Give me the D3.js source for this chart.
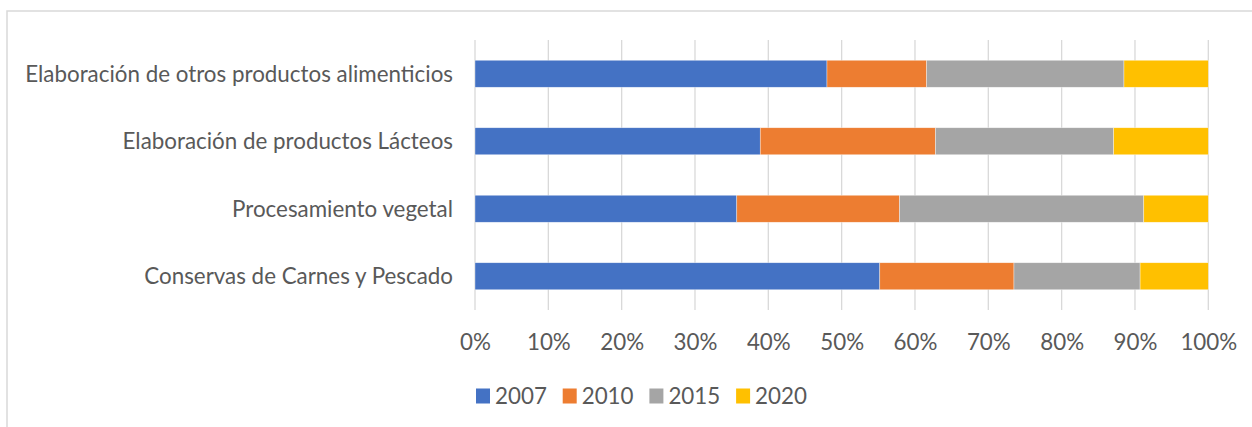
<!DOCTYPE html>
<html>
<head>
<meta charset="utf-8">
<script src="https://cdn.jsdelivr.net/npm/d3@7"></script>
<style>
  html, body { margin: 0; padding: 0; background: #fff; }
  svg { display: block; }
  text { font-family: Lato, "Open Sans", "Noto Sans", sans-serif; fill: #595959; }
</style>
</head>
<body>
<svg id="chart" width="1252" height="427"></svg>
<script>
// Data (shares in %)
const categories = [
  "Elaboración de otros productos alimenticios",
  "Elaboración de productos Lácteos",
  "Procesamiento vegetal",
  "Conservas de Carnes y Pescado"
];
const seriesNames = ["2007", "2010", "2015", "2020"];
const values2007 = [48.0, 38.9, 35.7, 55.2];
const values2010 = [13.6, 23.9, 22.2, 18.3];
const values2015 = [26.9, 24.3, 33.3, 17.2];
const values2020 = [11.5, 12.9,  8.8,  9.3];
const tickValues = [0, 0.1, 0.2, 0.3, 0.4, 0.5, 0.6, 0.7, 0.8, 0.9, 1.0];
const colors = ["#4472C4", "#ED7D31", "#A5A5A5", "#FFC000"];

const svg = d3.select("#chart");
const W = 1252, H = 427;

// chart frame
svg.append("path")
  .attr("d", `M7,${H + 5} V11 H${W + 5}`)
  .attr("fill", "none").attr("stroke", "#d9d9d9").attr("stroke-width", 1.5);

// fit font size so that the longest label matches the reference width
let fontSize = 21;
{
  const t = svg.append("text").attr("font-size", fontSize).text(categories[0]);
  const w = t.node().getComputedTextLength();
  t.remove();
  if (w > 0) fontSize = fontSize * 428 / w;
}

const plot = { left: 475, right: 1208.3, top: 40, bottom: 310 };

// build percentage table
const rows = categories.map((c, i) => {
  const vals = [values2007[i], values2010[i], values2015[i], values2020[i]];
  const tot = d3.sum(vals);
  const o = { category: c };
  seriesNames.forEach((s, j) => o[s] = vals[j] / tot);
  return o;
});
const stacked = d3.stack().keys(seriesNames)(rows);

const x = d3.scaleLinear().domain([0, 1]).range([plot.left, plot.right]);
const y = d3.scaleBand().domain(categories).range([plot.top, plot.bottom])
  .paddingInner(0.6).paddingOuter(0.3);

// gridlines
svg.append("g").selectAll("line").data(tickValues).join("line")
  .attr("x1", d => x(d)).attr("x2", d => x(d))
  .attr("y1", plot.top).attr("y2", plot.bottom)
  .attr("stroke", "#d9d9d9").attr("stroke-width", 1.3);

// bars
svg.append("g").selectAll("g").data(stacked).join("g")
  .attr("fill", (d, i) => colors[i])
  .selectAll("rect").data(d => d).join("rect")
  .attr("x", d => x(d[0]))
  .attr("y", d => y(d.data.category))
  .attr("width", d => x(d[1]) - x(d[0]))
  .attr("height", y.bandwidth())
  .attr("stroke", "#ffffff").attr("stroke-width", 0.6).attr("stroke-opacity", 0.6);

// x axis labels
const xAxis = d3.axisBottom(x).tickValues(tickValues).tickFormat(d3.format(".0%")).tickSize(0).tickPadding(0);
const gx = svg.append("g").attr("transform", `translate(0,${plot.bottom})`).call(xAxis);
gx.select(".domain").remove();
gx.selectAll("text")
  .attr("font-size", fontSize).attr("fill", "#595959")
  .attr("font-family", null)
  .attr("y", 32).attr("dy", "0.35em");

// y axis labels
const yAxis = d3.axisLeft(y).tickSize(0).tickPadding(0);
const gy = svg.append("g").attr("transform", `translate(453,0)`).call(yAxis);
gy.select(".domain").remove();
gy.selectAll("text")
  .attr("font-size", fontSize).attr("fill", "#595959")
  .attr("font-family", null)
  .attr("dy", "0.35em");

// legend
const legend = svg.append("g");
const ly = 396;
const legendStep = 86.7;
seriesNames.forEach((s, i) => {
  const lx = 476 + i * legendStep;
  legend.append("rect").attr("x", lx).attr("y", ly - 7.5).attr("width", 14).attr("height", 15).attr("fill", colors[i]);
  legend.append("text").attr("x", lx + 19).attr("y", ly).attr("dy", "0.35em")
    .attr("font-size", fontSize).text(s);
});
</script>
</body>
</html>
